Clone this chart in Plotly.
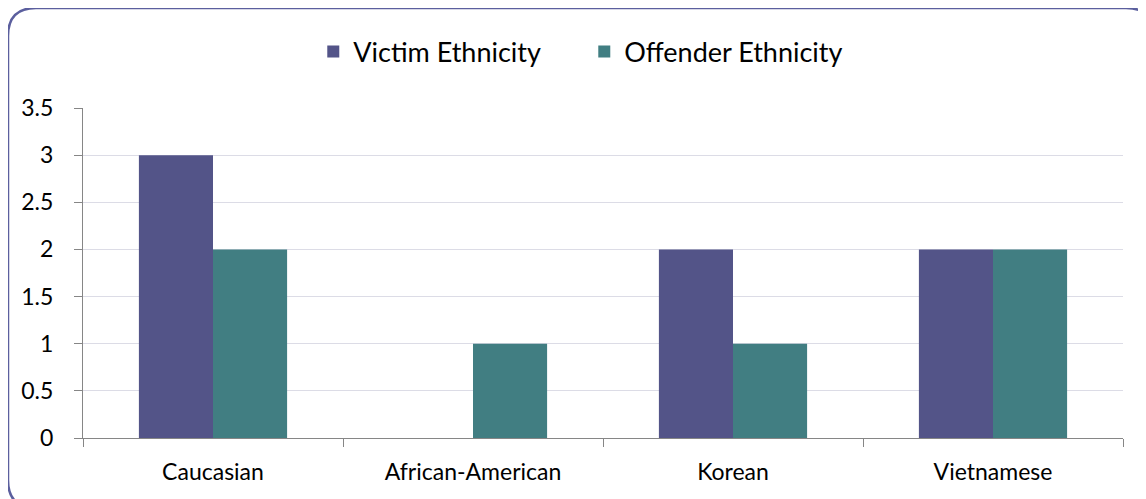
import plotly.graph_objects as go

categories = ["Caucasian", "African-American", "Korean", "Vietnamese"]
victim = [3, 0, 2, 2]
offender = [2, 1, 1, 2]
series_names = ["Victim Ethnicity", "Offender Ethnicity"]
y_ticks = [0, 0.5, 1, 1.5, 2, 2.5, 3, 3.5]
y_tick_labels = ["0", "0.5", "1", "1.5", "2", "2.5", "3", "3.5"]

# page has an 8px body margin; figure sized to fill the rest of the window
W, H = 1138, 491
L, R, T, B = 75, 23, 100, 61
pw, ph = W - L - R, H - T - B

def px(x):
    return (x - L) / pw

def py(y):
    return (H - B - y) / ph

FONT = "Lato, Open Sans, sans-serif"

fig = go.Figure()
fig.add_trace(go.Bar(x=categories, y=victim, name=series_names[0],
                     marker=dict(color="#535488", line=dict(width=0))))
fig.add_trace(go.Bar(x=categories, y=offender, name=series_names[1],
                     marker=dict(color="#417E82", line=dict(width=0))))

# rounded chart border
x0, y0, x1, y1, r = 0, 0, 1146, 500, 28
path = (f"M {px(x0 + r)},{py(y0)} L {px(x1 - r)},{py(y0)} "
        f"Q {px(x1)},{py(y0)} {px(x1)},{py(y0 + r)} "
        f"L {px(x1)},{py(y1 - r)} Q {px(x1)},{py(y1)} {px(x1 - r)},{py(y1)} "
        f"L {px(x0 + r)},{py(y1)} Q {px(x0)},{py(y1)} {px(x0)},{py(y1 - r)} "
        f"L {px(x0)},{py(y0 + r)} Q {px(x0)},{py(y0)} {px(x0 + r)},{py(y0)} Z")
fig.add_shape(type="path", path=path, xref="paper", yref="paper",
              line=dict(color="#5B5F9E", width=2.5), layer="above")

fig.update_layout(
    width=W, height=H,
    margin=dict(l=L, r=R, t=T, b=B),
    paper_bgcolor="white", plot_bgcolor="white",
    barmode="group", bargap=0.43, bargroupgap=0,
    font=dict(family=FONT, color="black", size=23),
    legend=dict(orientation="h", x=0.482, xanchor="center", y=1.17, yanchor="middle",
                font=dict(size=27, family=FONT), itemwidth=30, traceorder="normal",
                entrywidth=226, entrywidthmode="pixels"),
    showlegend=True,
)
fig.update_xaxes(showline=True, linecolor="#868686", linewidth=1,
                 ticks="outside", tickson="boundaries", ticklen=8, tickcolor="#868686",
                 showgrid=False, tickfont=dict(size=23), ticklabelstandoff=13)
fig.update_yaxes(range=[0, 3.5], tickvals=y_ticks, ticktext=y_tick_labels,
                 showline=True, linecolor="#868686", linewidth=1,
                 ticks="outside", ticklen=8, tickcolor="#868686",
                 showgrid=True, gridcolor="#DCDCE6", gridwidth=1,
                 zeroline=False, tickfont=dict(size=23), ticklabelstandoff=16)

fig.write_html("out.html")
